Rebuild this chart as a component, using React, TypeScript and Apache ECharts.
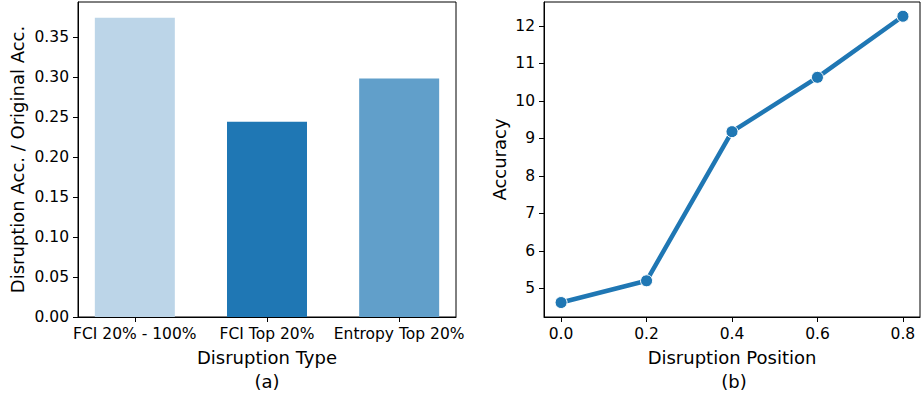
import React, { useEffect, useRef } from "react";
import * as echarts from "echarts";

const barCategories = ["FCI 20% - 100%", "FCI Top 20%", "Entropy Top 20%"];
const barValues = [0.374, 0.244, 0.298];
const barColors = ["#bcd5e8", "#1f77b4", "#619fca"];
const barYTicks = [0, 0.05, 0.1, 0.15, 0.2, 0.25, 0.3, 0.35];

const linePositions = [0.0, 0.2, 0.4, 0.6, 0.8];
const lineAccuracy = [4.62, 5.2, 9.18, 10.63, 12.26];
const lineXTicks = [0.0, 0.2, 0.4, 0.6, 0.8];
const lineYTicks = [5, 6, 7, 8, 9, 10, 11, 12];

const FONT = "DejaVu Sans";

export default function App() {
  const ref = useRef<HTMLDivElement>(null);
  useEffect(() => {
    if (!ref.current) return;
    const chart = echarts.init(ref.current, null, { renderer: "svg" });
    const tickStyle = { show: true, inside: false, length: 5, lineStyle: { color: "#000", width: 1 } };
    const labelStyle = { color: "#000", fontFamily: FONT, fontSize: 15.5 };
    const nameStyle = { color: "#000", fontFamily: FONT, fontSize: 18 };
    const lineAxis = { show: true, onZero: false, lineStyle: { color: "#000" } };
    chart.setOption({
      animation: false,
      textStyle: { fontFamily: FONT },
      grid: [
        { left: 78, top: 2, width: 378, height: 315, show: true, borderColor: "#000", borderWidth: 1, containLabel: false },
        { left: 544, top: 2, width: 376, height: 315, show: true, borderColor: "#000", borderWidth: 1, containLabel: false },
      ],
      xAxis: [
        {
          gridIndex: 0,
          type: "value",
          min: -0.43,
          max: 2.43,
          splitLine: { show: false },
          axisLine: lineAxis,
          axisTick: { ...tickStyle, customValues: [0, 1, 2] },
          axisLabel: {
            ...labelStyle,
            margin: 9,
            customValues: [0, 1, 2],
            formatter: (v: number) => barCategories[Math.round(v)] ?? "",
          },
          name: "Disruption Type",
          nameLocation: "middle",
          nameGap: 31,
          nameTextStyle: nameStyle,
        },
        {
          gridIndex: 1,
          type: "value",
          min: -0.04,
          max: 0.84,
          splitLine: { show: false },
          axisLine: lineAxis,
          axisTick: { ...tickStyle, customValues: lineXTicks },
          axisLabel: {
            ...labelStyle,
            margin: 9,
            customValues: lineXTicks,
            formatter: (v: number) => v.toFixed(1),
          },
          name: "Disruption Position",
          nameLocation: "middle",
          nameGap: 31,
          nameTextStyle: nameStyle,
        },
      ],
      yAxis: [
        {
          gridIndex: 0,
          type: "value",
          min: 0,
          max: 0.39375,
          splitLine: { show: false },
          axisLine: lineAxis,
          axisTick: { ...tickStyle, customValues: barYTicks },
          axisLabel: {
            ...labelStyle,
            margin: 9,
            customValues: barYTicks,
            formatter: (v: number) => v.toFixed(2),
          },
          name: "Disruption Acc. / Original Acc.",
          nameLocation: "middle",
          nameGap: 52,
          nameRotate: 90,
          nameTextStyle: nameStyle,
        },
        {
          gridIndex: 1,
          type: "value",
          min: 4.234,
          max: 12.64,
          splitLine: { show: false },
          axisLine: lineAxis,
          axisTick: { ...tickStyle, customValues: lineYTicks },
          axisLabel: {
            ...labelStyle,
            margin: 9,
            customValues: lineYTicks,
            formatter: (v: number) => String(Math.round(v)),
          },
          name: "Accuracy",
          nameLocation: "middle",
          nameGap: 36,
          nameRotate: 90,
          nameTextStyle: nameStyle,
        },
      ],
      series: [
        {
          type: "bar",
          xAxisIndex: 0,
          yAxisIndex: 0,
          barWidth: 80,
          data: barValues.map((v, i) => ({ value: [i, v], itemStyle: { color: barColors[i] } })),
        },
        {
          type: "line",
          xAxisIndex: 1,
          yAxisIndex: 1,
          data: linePositions.map((x, i) => [x, lineAccuracy[i]]),
          lineStyle: { color: "#1f77b4", width: 4.5 },
          symbol: "circle",
          symbolSize: 12,
          itemStyle: { color: "#1f77b4", borderColor: "#fff", borderWidth: 1 },
          z: 3,
        },
      ],
      graphic: [
        { type: "text", x: 267, y: 381, style: { text: "(a)", fontFamily: FONT, fontSize: 18, fill: "#000", align: "center", verticalAlign: "middle" } },
        { type: "text", x: 734, y: 381, style: { text: "(b)", fontFamily: FONT, fontSize: 18, fill: "#000", align: "center", verticalAlign: "middle" } },
      ],
    });
    return () => chart.dispose();
  }, []);
  return <div ref={ref} style={{ position: "fixed", left: 0, top: 0, width: 921, height: 393, background: "#fff" }} />;
}
